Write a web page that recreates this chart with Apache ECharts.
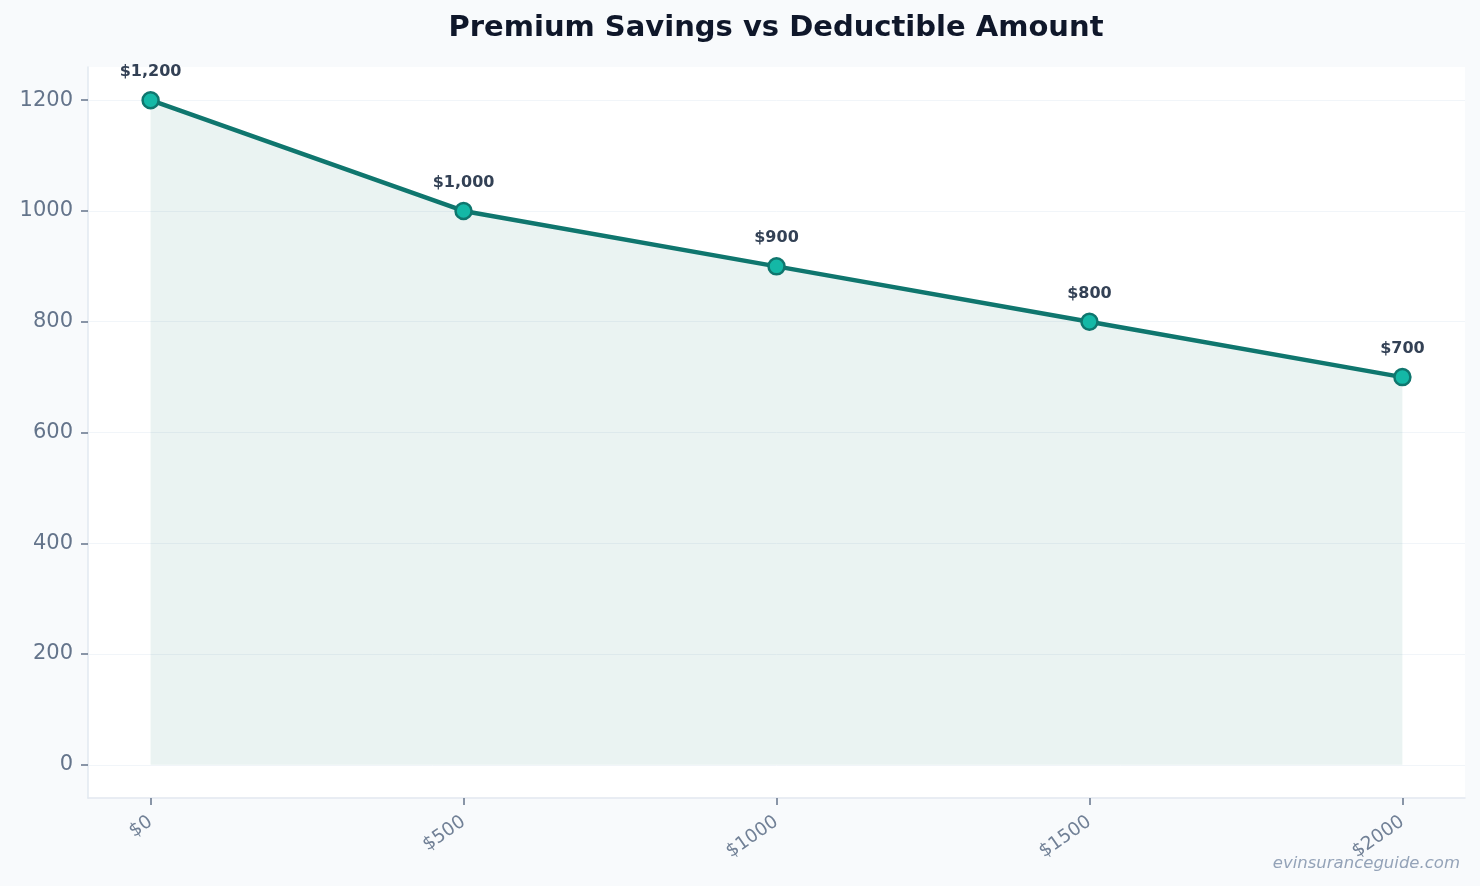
<!DOCTYPE html>
<html>
<head>
<meta charset="utf-8">
<title>Premium Savings vs Deductible Amount</title>
<script src="https://cdn.jsdelivr.net/npm/echarts@6/dist/echarts.min.js"></script>
<style>
  html, body { margin: 0; padding: 0; background: #f8fafc; }
  #main { width: 1480px; height: 886px; }
</style>
</head>
<body>
<div id="main"></div>
<script>
// deductible amounts and the yearly premium that goes with each one
const deductibles = [0, 500, 1000, 1500, 2000];
const premiums = [1200, 1000, 900, 800, 700];
const yTicks = [0, 200, 400, 600, 800, 1000, 1200];

const font = 'DejaVu Sans';
const teal = '#0f766e';

let points = deductibles.map((d, i) => [d, premiums[i]]);

var chartDom = document.getElementById('main');
var myChart = echarts.init(chartDom);

let option = {
    backgroundColor: '#f8fafc',
    animation: false,
    graphic: [{
        // title sits centred over the plot area, not the page
        type: 'text',
        x: 776,
        y: 14,
        style: {
            text: 'Premium Savings vs Deductible Amount',
            font: 'bold 29px "DejaVu Sans"',
            fill: '#0f172a',
            textAlign: 'center'
        }
    }, {
        type: 'text',
        right: 20,
        bottom: 14,
        style: {
            text: 'evinsuranceguide.com',
            font: 'italic 16.5px "DejaVu Sans"',
            fill: '#94a3b8'
        }
    }],
    grid: {
        left: 88, right: 15, top: 67, bottom: 88,
        show: true, backgroundColor: '#ffffff', borderWidth: 0
    },
    xAxis: {
        type: 'value',
        min: -100,
        max: 2100,
        axisLine: { show: true, onZero: false, lineStyle: { color: '#e2e8f0', width: 1.5 } },
        axisTick: { show: true, customValues: deductibles, length: 7, lineStyle: { color: '#64748b', width: 1.5 } },
        axisLabel: {
            customValues: deductibles,
            rotate: 35,
            margin: 22,
            fontFamily: font,
            fontSize: 18.5,
            color: '#718096',
            formatter: v => '$' + v
        },
        splitLine: { show: false }
    },
    yAxis: {
        type: 'value',
        min: -60,
        max: 1260,
        axisLine: { show: true, onZero: false, lineStyle: { color: '#e2e8f0', width: 1.5 } },
        axisTick: { show: true, customValues: yTicks, length: 7, lineStyle: { color: '#64748b', width: 1.5 } },
        axisLabel: {
            customValues: yTicks,
            margin: 15,
            fontFamily: font,
            fontSize: 21,
            color: '#64748b',
            formatter: v => String(v)
        },
        splitLine: { show: true, lineStyle: { color: '#f1f5f9', width: 1 } }
    },
    series: [{
        type: 'line',
        data: points,
        symbol: 'circle',
        symbolSize: 16,
        lineStyle: { color: teal, width: 4.5 },
        itemStyle: { color: '#14b8a6', borderColor: teal, borderWidth: 2.5 },
        areaStyle: { color: 'rgba(15,118,110,0.12)', origin: 0 },
        label: {
            show: true,
            position: 'top',
            distance: 11,
            fontFamily: font,
            fontSize: 16,
            fontWeight: 'bold',
            color: '#334155',
            formatter: p => '$' + p.value[1].toLocaleString('en-US')
        },
        z: 3
    }]
};

myChart.setOption(option);
</script>
</body>
</html>
